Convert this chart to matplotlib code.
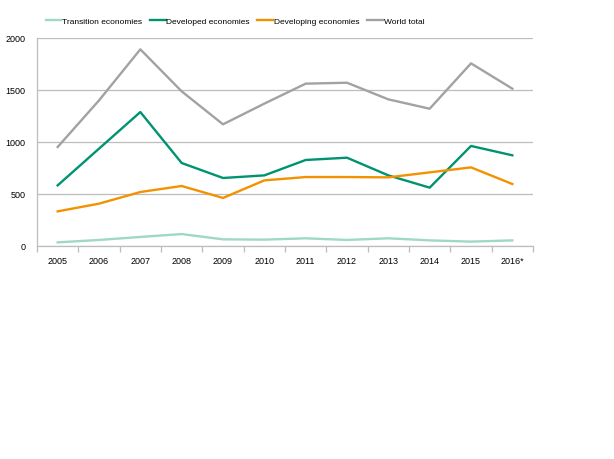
import matplotlib
matplotlib.use('Agg')
import matplotlib.pyplot as plt
from matplotlib.ticker import FixedLocator, NullFormatter

years = ['2005', '2006', '2007', '2008', '2009', '2010',
         '2011', '2012', '2013', '2014', '2015', '2016*']
transition = [35, 58, 87, 115, 64, 61, 74, 58, 74, 54, 42, 54]
developed = [583, 936, 1288, 798, 654, 679, 827, 849, 679, 561, 962, 872]
developing = [333, 407, 519, 577, 462, 631, 663, 663, 660, 708, 756, 596]
world = [952, 1400, 1891, 1487, 1170, 1369, 1561, 1570, 1410, 1320, 1756, 1513]

series = [
    ('Transition economies', transition, '#9fd8c6'),
    ('Developed economies', developed, '#00936f'),
    ('Developing economies', developing, '#f39200'),
    ('World total', world, '#a2a2a2'),
]

plt.rcParams['font.family'] = ['Liberation Sans Narrow', 'Liberation Sans', 'DejaVu Sans']

fig = plt.figure(figsize=(6.14, 4.6), dpi=100)
ax = fig.add_axes([37 / 614, 1 - 247 / 460, 496 / 614, 208 / 460])

x = list(range(len(years)))
for name, vals, col in series:
    ax.plot(x, vals, color=col, lw=1.7, label=name)

ax.set_xlim(-0.5, len(years) - 0.5)
ax.set_ylim(0, 2000)
ax.set_yticks([0, 500, 1000, 1500, 2000])
ax.yaxis.grid(True, color='#bdbdbd', lw=0.9)
ax.set_axisbelow(True)
ax.tick_params(axis='y', length=0, pad=8.5, labelsize=6.5)

ax.set_xticks(x)
ax.set_xticklabels(years)
ax.tick_params(axis='x', which='major', length=0, pad=7, labelsize=6.5)
ax.xaxis.set_minor_locator(FixedLocator([i - 0.5 for i in range(len(years) + 1)]))
ax.xaxis.set_minor_formatter(NullFormatter())
ax.tick_params(axis='x', which='minor', length=4, color='#bdbdbd', width=0.9)

for side in ['top', 'right']:
    ax.spines[side].set_visible(False)
for side in ['left', 'bottom']:
    ax.spines[side].set_color('#bdbdbd')
    ax.spines[side].set_linewidth(0.9)

fig.legend(loc='center', bbox_to_anchor=(235 / 614, 1 - 22 / 460), ncol=4,
           frameon=False, handlelength=1.9, handletextpad=0.1,
           columnspacing=0.9, fontsize=6)

fig.savefig('out.png', dpi=100)
